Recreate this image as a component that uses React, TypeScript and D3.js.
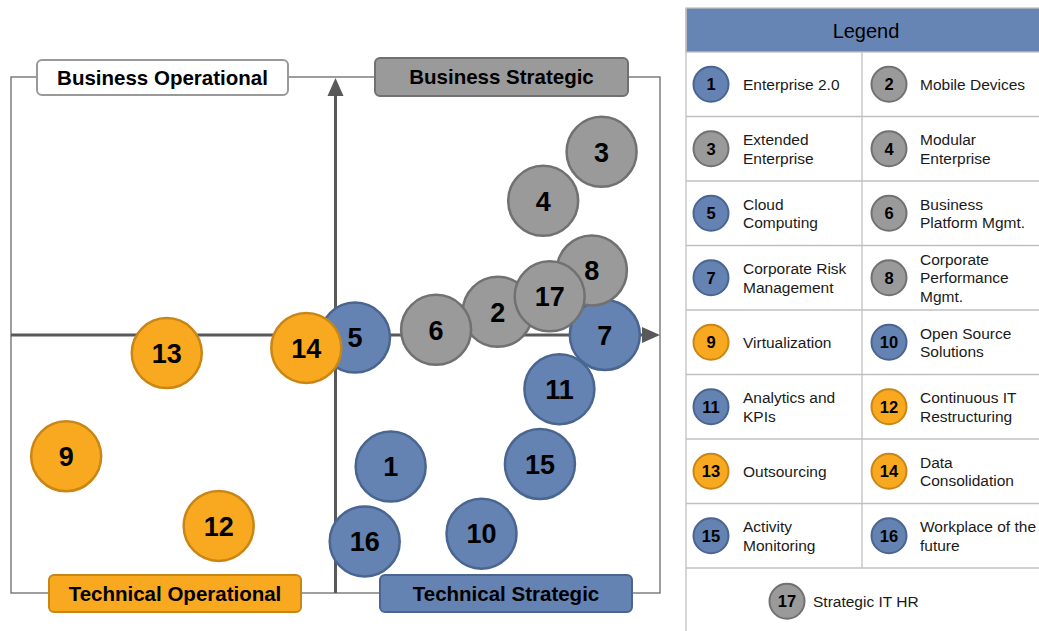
import React from 'react'
import * as d3 from 'd3'

// bubble ids, groups and positions on the quadrant (-1..1 on both axes)
const ids = [1, 2, 3, 4, 5, 6, 7, 8, 9, 10, 11, 12, 13, 14, 15, 16, 17]
const groups = ['tech', 'biz', 'biz', 'biz', 'tech', 'biz', 'tech', 'biz', 'ops', 'tech', 'tech', 'ops', 'ops', 'ops', 'tech', 'tech', 'biz']
const xs = [0.17, 0.5, 0.82, 0.64, 0.06, 0.31, 0.83, 0.79, -0.83, 0.45, 0.69, -0.36, -0.52, -0.09, 0.63, 0.09, 0.66]
const ys = [-0.51, 0.09, 0.71, 0.52, -0.01, 0.02, 0.0, 0.25, -0.47, -0.77, -0.21, -0.74, -0.07, -0.05, -0.5, -0.8, 0.15]
const drawOrder = [1, 9, 10, 12, 13, 15, 16, 3, 4, 11, 7, 8, 2, 6, 17, 5, 14]

const legendNames = [
  ['Enterprise 2.0'], ['Mobile Devices'],
  ['Extended', 'Enterprise'], ['Modular', 'Enterprise'],
  ['Cloud', 'Computing'], ['Business', 'Platform Mgmt.'],
  ['Corporate Risk', 'Management'], ['Corporate', 'Performance', 'Mgmt.'],
  ['Virtualization'], ['Open Source', 'Solutions'],
  ['Analytics and', 'KPIs'], ['Continuous IT', 'Restructuring'],
  ['Outsourcing'], ['Data', 'Consolidation'],
  ['Activity', 'Monitoring'], ['Workplace of the', 'future'],
  ['Strategic IT HR'],
]

const quadrantLabels = [
  { text: 'Business Operational', kind: 'white', x0: 37, x1: 288, y0: 60, y1: 95 },
  { text: 'Business Strategic', kind: 'biz', x0: 375, x1: 628, y0: 58, y1: 96 },
  { text: 'Technical Operational', kind: 'ops', x0: 49, x1: 301, y0: 575, y1: 612 },
  { text: 'Technical Strategic', kind: 'tech', x0: 380, x1: 632, y0: 575, y1: 612 },
]

const fills: Record<string, string> = { tech: '#6482b2', biz: '#9a9a9a', ops: '#f9a920', white: '#ffffff' }
const strokes: Record<string, string> = { tech: '#4a6590', biz: '#717171', ops: '#c98615', white: '#999999' }

const FONT = 'Liberation Sans, Arial, Helvetica, sans-serif'

export default function App() {
  const left = 11, right = 660, top = 77, bottom = 593
  const x = d3.scaleLinear().domain([-1, 1]).range([left, right])
  const y = d3.scaleLinear().domain([-1, 1]).range([bottom, top])
  const cx0 = x(0), cy0 = y(0)
  const r = 35

  const legendTop = 52, rowH = 64.5
  const colX = [686, 862]

  return (
    <svg width={1039} height={631} style={{ position: 'absolute', left: 0, top: 0, fontFamily: FONT }}>
      {/* frame */}
      <rect x={left} y={top} width={right - left} height={bottom - top} fill="none" stroke="#6a6a6a" strokeWidth={1.3} />
      {/* axes */}
      <line x1={left} x2={right - 16} y1={cy0} y2={cy0} stroke="#595959" strokeWidth={3} />
      <path d={`M${right},${cy0} L${right - 18},${cy0 - 8} L${right - 18},${cy0 + 8} Z`} fill="#595959" />
      <line x1={cx0} x2={cx0} y1={bottom} y2={top + 18} stroke="#595959" strokeWidth={3} />
      <path d={`M${cx0},${top + 1} L${cx0 - 8},${top + 19} L${cx0 + 8},${top + 19} Z`} fill="#595959" />

      {/* quadrant labels */}
      {quadrantLabels.map(q => (
        <g key={q.text}>
          <rect x={q.x0} y={q.y0} width={q.x1 - q.x0} height={q.y1 - q.y0} rx={5}
            fill={fills[q.kind]} stroke={strokes[q.kind]} strokeWidth={2} />
          <text x={(q.x0 + q.x1) / 2} y={(q.y0 + q.y1) / 2} dy="0.36em" textAnchor="middle"
            fontSize={20.5} fontWeight="bold" fill="#000">{q.text}</text>
        </g>
      ))}

      {/* bubbles */}
      {drawOrder.map(id => {
        const i = ids.indexOf(id)
        return (
          <g key={id} transform={`translate(${x(xs[i])},${y(ys[i])})`}>
            <circle r={r} fill={fills[groups[i]]} stroke={strokes[groups[i]]} strokeWidth={2.5} />
            <text dy="0.36em" textAnchor="middle" fontSize={27} fontWeight="bold" fill="#000">{id}</text>
          </g>
        )
      })}

      {/* legend */}
      <rect x={686} y={8} width={360} height={44} fill="#6785b4" stroke="#c0c0c0" strokeWidth={1.3} />
      <text x={866} y={31} dy="0.36em" textAnchor="middle" fontSize={20} fill="#000">Legend</text>
      <line x1={686} x2={686} y1={8} y2={631} stroke="#c0c0c0" strokeWidth={1.3} />
      <line x1={862} x2={862} y1={legendTop} y2={legendTop + rowH * 8} stroke="#c0c0c0" strokeWidth={1.3} />
      {d3.range(1, 9).map(k => (
        <line key={k} x1={686} x2={1039} y1={legendTop + rowH * k} y2={legendTop + rowH * k} stroke="#c0c0c0" strokeWidth={1.3} />
      ))}
      {ids.map((id, i) => {
        const last = i === 16
        const row = Math.floor(i / 2)
        const cx = last ? 787 : colX[i % 2] + 25 + (i % 2 === 1 ? 2 : 0)
        const cy = legendTop + rowH * row + rowH / 2 + (last ? 1 : 0)
        const tx = last ? 813 : cx + 32 - (i % 2 === 1 ? 1 : 0)
        const lines = legendNames[i]
        const lh = 18.5
        return (
          <g key={id}>
            <circle cx={cx} cy={cy} r={17.5} fill={fills[groups[i]]} stroke={strokes[groups[i]]} strokeWidth={2} />
            <text x={cx} y={cy} dy="0.36em" textAnchor="middle" fontSize={16.5} fontWeight="bold" fill="#000">{id}</text>
            <text x={tx} y={cy - ((lines.length - 1) * lh) / 2} fontSize={15.5} fill="#1a1a1a">
              {lines.map((l, j) => (
                <tspan key={j} x={tx} dy={j === 0 ? '0.36em' : lh}>{l}</tspan>
              ))}
            </text>
          </g>
        )
      })}
    </svg>
  )
}
